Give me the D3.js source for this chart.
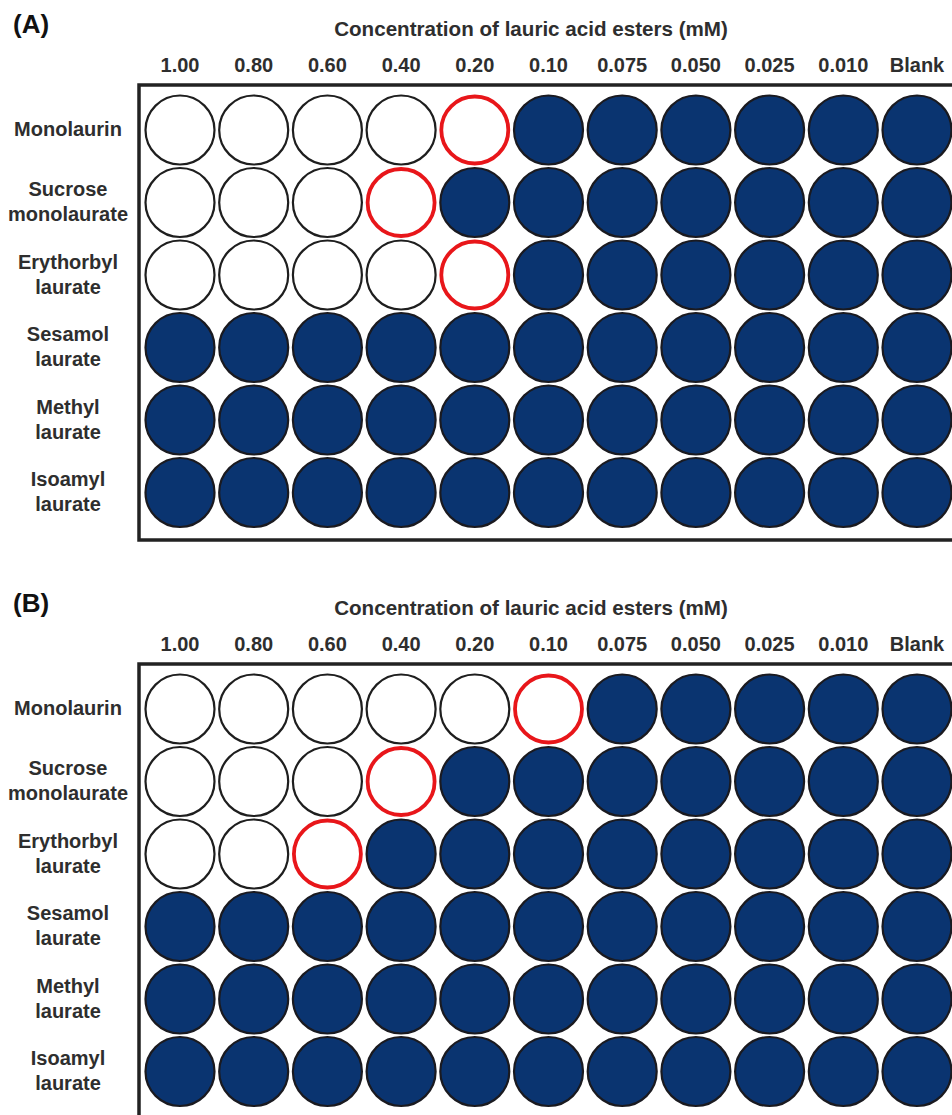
<!DOCTYPE html>
<html>
<head>
<meta charset="utf-8">
<script src="https://cdn.jsdelivr.net/npm/d3@7"></script>
<style>
  html, body { margin: 0; padding: 0; background: #ffffff; }
  svg { display: block; }
  text { font-family: "Liberation Sans", Arial, Helvetica, sans-serif; font-weight: bold; }
</style>
</head>
<body>
<div id="chart"></div>
<script>
// Broth microdilution plate: concentration columns, one row per ester
const concentrations = ["1.00", "0.80", "0.60", "0.40", "0.20", "0.10", "0.075", "0.050", "0.025", "0.010", "Blank"];
const compounds = [
  ["Monolaurin"],
  ["Sucrose", "monolaurate"],
  ["Erythorbyl", "laurate"],
  ["Sesamol", "laurate"],
  ["Methyl", "laurate"],
  ["Isoamyl", "laurate"]
];
// Lowest concentration (mM) that left the well clear; null = growth in every well
const micA = [0.20, 0.40, 0.20, null, null, null];
const micB = [0.10, 0.40, 0.60, null, null, null];
const panelLabels = ["(A)", "(B)"];
const axisTitle = "Concentration of lauric acid esters (mM)";

const W = 952, H = 1115;
const panelOffset = 579;

const svg = d3.select("#chart").append("svg")
  .attr("width", W).attr("height", H);

const x = d3.scalePoint().domain(concentrations).range([180, 917]);
const y = d3.scalePoint().domain(d3.range(compounds.length)).range([130, 492.5]);

const colors = {
  text: "#2e2e2e",
  growth: "#0a3470",
  growthStroke: "#1a1a20",
  clearStroke: "#1e1e1e",
  mic: "#e8161a",
  frame: "#222222"
};

function drawPanel(g, label, mic) {
  g.append("text")
    .attr("x", 13).attr("y", 33)
    .attr("font-size", 26)
    .attr("fill", "#111")
    .text(label);

  g.append("text")
    .attr("x", 531).attr("y", 36)
    .attr("text-anchor", "middle")
    .attr("font-size", 20.6)
    .attr("fill", colors.text)
    .text(axisTitle);

  // column headers
  g.selectAll("text.col")
    .data(concentrations)
    .join("text")
    .attr("class", "col")
    .attr("x", d => x(d))
    .attr("y", 72)
    .attr("text-anchor", "middle")
    .attr("font-size", 20)
    .attr("fill", colors.text)
    .text(d => d);

  // row labels
  const rows = g.selectAll("text.row")
    .data(compounds)
    .join("text")
    .attr("class", "row")
    .attr("text-anchor", "middle")
    .attr("font-size", 20)
    .attr("fill", colors.text);
  rows.each(function(lines, i) {
    const t = d3.select(this);
    const n = lines.length;
    lines.forEach((line, k) => {
      t.append("tspan")
        .attr("x", 68)
        .attr("y", y(i) + 6 + (k - (n - 1) / 2) * 25)
        .text(line);
    });
  });

  // plate frame (open on the right, runs past the edge)
  g.append("rect")
    .attr("x", 139).attr("y", 85)
    .attr("width", 840).attr("height", 455)
    .attr("fill", "none")
    .attr("stroke", colors.frame)
    .attr("stroke-width", 3.5);

  const wells = [];
  compounds.forEach((c, i) => {
    concentrations.forEach(conc => {
      const v = conc === "Blank" ? null : +conc;
      const m = mic[i];
      const clear = m !== null && v !== null && v >= m - 1e-9;
      const isMic = clear && Math.abs(v - m) < 1e-9;
      wells.push({ row: i, conc, clear, isMic });
    });
  });

  g.selectAll("circle.well")
    .data(wells)
    .join("circle")
    .attr("class", "well")
    .attr("cx", d => x(d.conc))
    .attr("cy", d => y(d.row))
    .attr("r", d => d.isMic ? 33.5 : 34.5)
    .attr("fill", d => d.clear ? "#ffffff" : colors.growth)
    .attr("stroke", d => d.isMic ? colors.mic : (d.clear ? colors.clearStroke : colors.growthStroke))
    .attr("stroke-width", d => d.isMic ? 3.8 : 2.2);
}

drawPanel(svg.append("g"), panelLabels[0], micA);
drawPanel(svg.append("g").attr("transform", `translate(0,${panelOffset})`), panelLabels[1], micB);
</script>
</body>
</html>
